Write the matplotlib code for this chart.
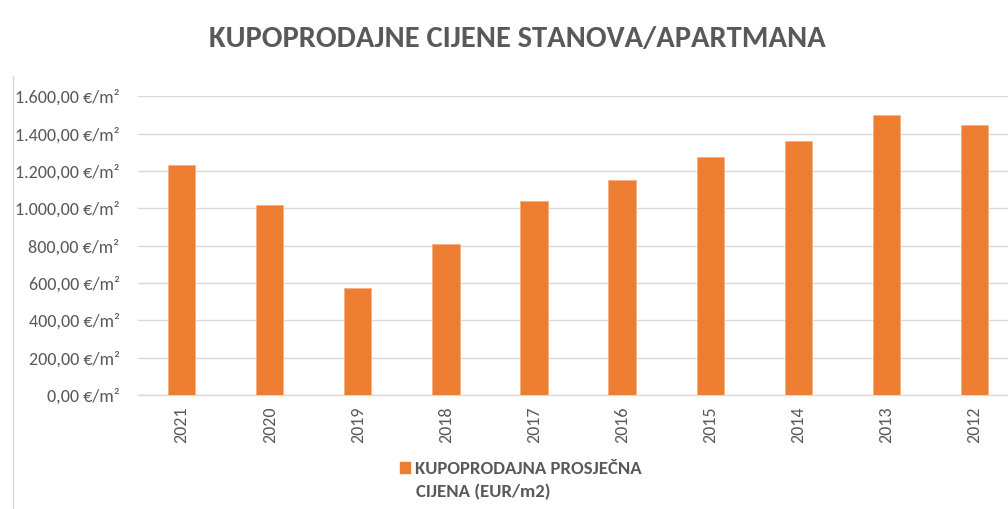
import matplotlib
matplotlib.use("Agg")
import matplotlib.pyplot as plt
from matplotlib.lines import Line2D
from matplotlib.patches import Patch
from matplotlib.ticker import FuncFormatter

years = ["2021", "2020", "2019", "2018", "2017", "2016", "2015", "2014", "2013", "2012"]
prices = [1230, 1015, 575, 810, 1038, 1152, 1277, 1361, 1500, 1448]
y_ticks = [0, 200, 400, 600, 800, 1000, 1200, 1400, 1600]

title = "KUPOPRODAJNE CIJENE STANOVA/APARTMANA"
legend_lines = ["KUPOPRODAJNA PROSJEČNA", "CIJENA (EUR/m2)"]

BAR = "#ED7D31"
TXT = "#595959"
GRID = "#D9D9D9"

# Carlito = Calibri metrics
plt.rcParams['font.family'] = ['Carlito', 'DejaVu Sans']

fig = plt.figure(figsize=(10.08, 5.09), dpi=100)
ax = fig.add_axes([0.1365, 0.224, 0.874, 0.587])

x = range(len(years))
ax.bar(x, prices, width=0.31, color=BAR, edgecolor="#F4B183", linewidth=0.6, zorder=3)

ax.set_xlim(-0.5, len(years) - 0.5)
ax.set_ylim(0, 1600)
ax.set_yticks(y_ticks)


def euro_fmt(v, pos):
    s = f"{v:,.2f}".replace(",", "X").replace(".", ",").replace("X", ".")
    return s + " €/m²"


ax.yaxis.set_major_formatter(FuncFormatter(euro_fmt))
ax.set_xticks(list(x))
ax.set_xticklabels(years, rotation=90)
ax.grid(axis="y", color=GRID, lw=1.0, zorder=0)
for side in ["top", "right", "left"]:
    ax.spines[side].set_visible(False)
ax.spines["bottom"].set_color(GRID)
ax.spines["bottom"].set_linewidth(1.0)
ax.tick_params(axis="y", length=0, pad=13, labelsize=13, labelcolor=TXT)
ax.tick_params(axis="x", length=0, pad=8.5, labelsize=13, labelcolor=TXT)

fig.text(0.513, 0.923, title, ha="center", va="center", fontsize=22,
         fontweight="bold", color=TXT)

# legend: marker sits next to the first line, label wraps onto a second line
leg = fig.legend(handles=[Patch(color=BAR, label=legend_lines[0])],
                 loc="center left", bbox_to_anchor=(0.380, 0.0786), frameon=False,
                 handlelength=0.55, handleheight=0.55, handletextpad=0.25,
                 prop={"size": 13.5, "weight": "bold"})
for t in leg.get_texts():
    t.set_color(TXT)
fig.text(0.4127, 0.0334, legend_lines[1], ha="left", va="center", fontsize=13.5,
         fontweight="bold", color=TXT)

fig.add_artist(Line2D([0.013, 0.013], [0, 0.85], color=GRID, lw=1.0))

fig.savefig("out.png", dpi=100)
